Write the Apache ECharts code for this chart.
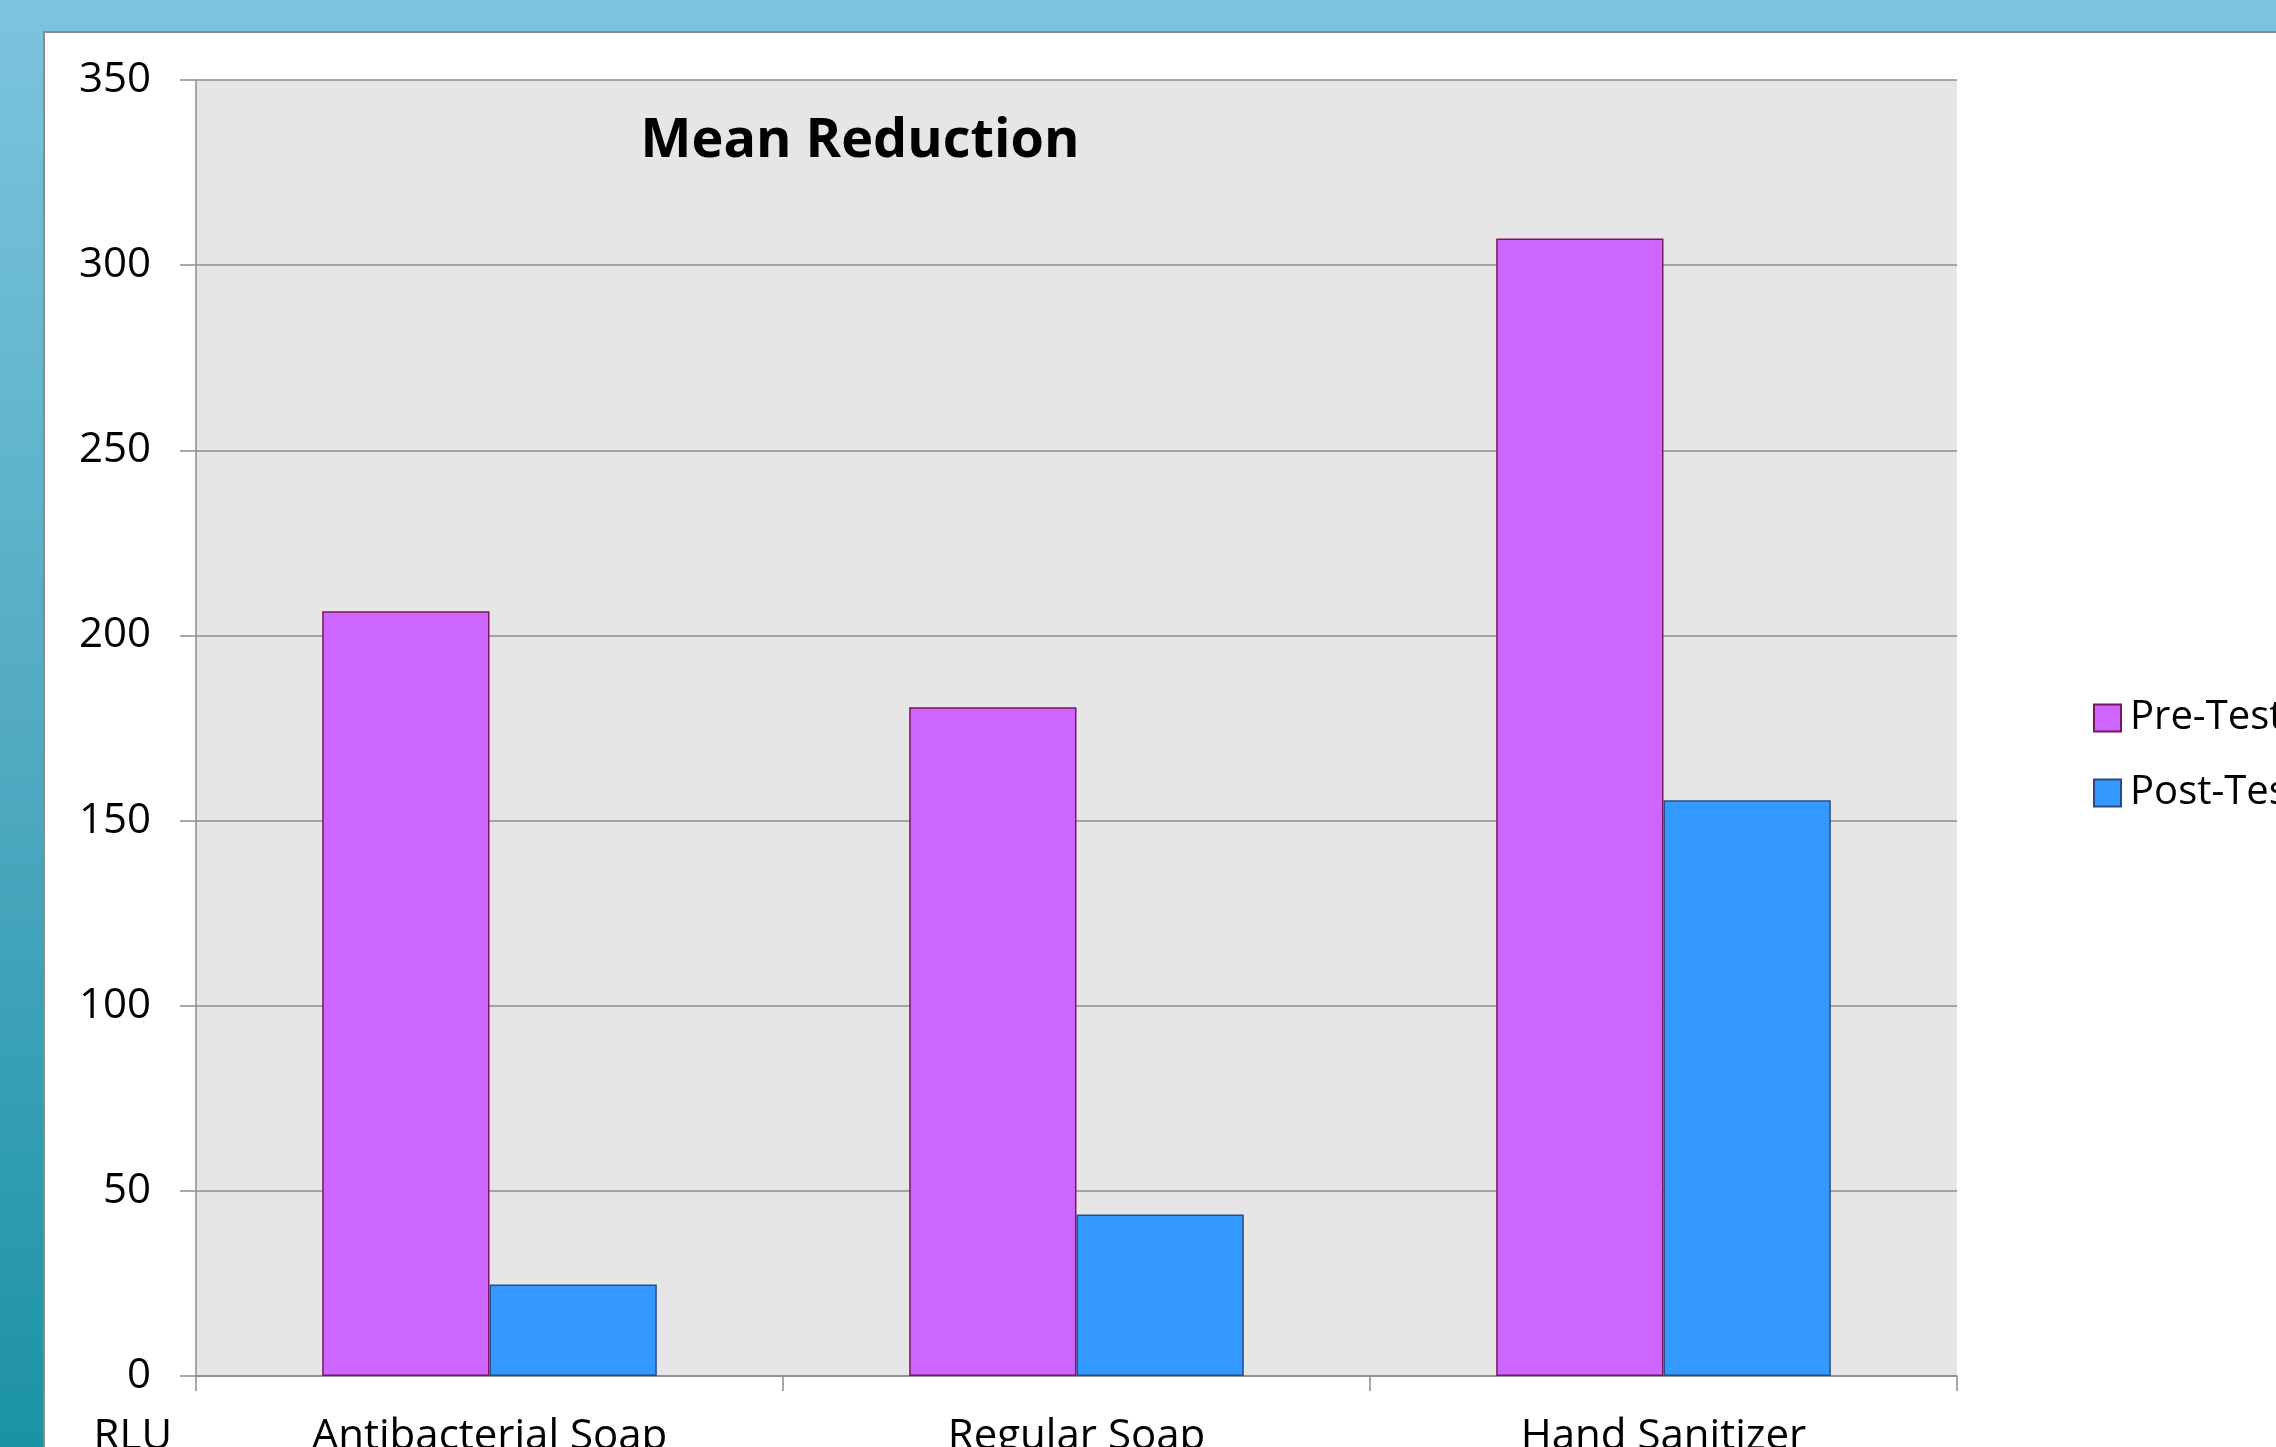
<!DOCTYPE html>
<html>
<head>
<meta charset="utf-8">
<script src="https://cdn.jsdelivr.net/npm/echarts@6/dist/echarts.min.js"></script>
<style>
html,body{margin:0;padding:0;background:#fff;}
#chart{width:2276px;height:1447px;}
</style>
</head>
<body>
<div id="chart"></div>
<script>
var categories = ['Antibacterial Soap', 'Regular Soap', 'Hand Sanitizer'];
var seriesNames = ['Pre-Test', 'Post-Test'];
var preTest = [206.5, 180.6, 307.2];
var postTest = [24.7, 43.6, 155.5];
var yTicks = [0, 50, 100, 150, 200, 250, 300, 350];
var titleText = 'Mean Reduction';
var yName = 'RLU';

var FONT = 'Open Sans';
var chart = echarts.init(document.getElementById('chart'), null, {renderer: 'canvas'});
var grey = '#8c8c8c';
chart.setOption({
  backgroundColor: 'transparent',
  animation: false,
  graphic: [
    {type: 'rect', z: -100, shape: {x: 0, y: 0, width: 2276, height: 1447},
     style: {fill: new echarts.graphic.LinearGradient(0, 0, 0, 1, [
       {offset: 0, color: '#7cc4df'}, {offset: 0.5, color: '#52abc3'}, {offset: 1, color: '#1a93a3'}])}},
    {type: 'rect', z: -90, shape: {x: 44, y: 32, width: 2400, height: 1500},
     style: {fill: '#ffffff', stroke: '#8a8a8a', lineWidth: 2}}
  ],
  title: {
    text: titleText,
    left: 855, top: 110, textAlign: 'center',
    textStyle: {fontFamily: FONT, fontWeight: 'bold', fontSize: 54, color: '#000'}
  },
  legend: {
    orient: 'vertical', left: 2088, top: 693,
    itemWidth: 27, itemHeight: 27, itemGap: 35,
    icon: 'rect',
    data: seriesNames,
    textStyle: {fontFamily: FONT, fontSize: 40, lineHeight: 40, color: '#000', padding: [0, 0, 0, 4]}
  },
  grid: {
    left: 196, top: 80, width: 1761, height: 1296,
    outerBoundsMode: 'none', containLabel: false,
    show: true, backgroundColor: '#e6e6e6', borderWidth: 0
  },
  xAxis: {
    type: 'category', data: categories,
    axisLine: {show: true, lineStyle: {color: grey, width: 1.5}},
    axisTick: {show: true, length: 15, lineStyle: {color: grey, width: 1.5}},
    axisLabel: {fontFamily: FONT, fontSize: 42, color: '#000', margin: 40}
  },
  yAxis: {
    type: 'value', min: 0, max: 350, interval: 50,
    name: yName, nameLocation: 'start', nameGap: 40,
    nameTextStyle: {fontFamily: FONT, fontSize: 42, color: '#000', align: 'right', verticalAlign: 'top', padding: [0, 24, 0, 0]},
    axisLine: {show: true, lineStyle: {color: grey, width: 1.5}},
    axisTick: {show: true, length: 16, lineStyle: {color: grey, width: 1.5}},
    axisLabel: {fontFamily: FONT, fontSize: 42, color: '#000', margin: 45,
      formatter: function (v) { return yTicks.indexOf(v) >= 0 ? String(v) : ''; }},
    splitLine: {show: true, lineStyle: {color: grey, width: 1.5}}
  },
  series: [
    {name: seriesNames[0], type: 'bar', data: preTest, barGap: '0%', barCategoryGap: '43%',
     itemStyle: {color: '#cc66ff', borderColor: '#7a1660', borderWidth: 1.5}},
    {name: seriesNames[1], type: 'bar', data: postTest, barGap: '0%', barCategoryGap: '43%',
     itemStyle: {color: '#3399ff', borderColor: '#2b4a88', borderWidth: 1.5}}
  ]
});
</script>
</body>
</html>
